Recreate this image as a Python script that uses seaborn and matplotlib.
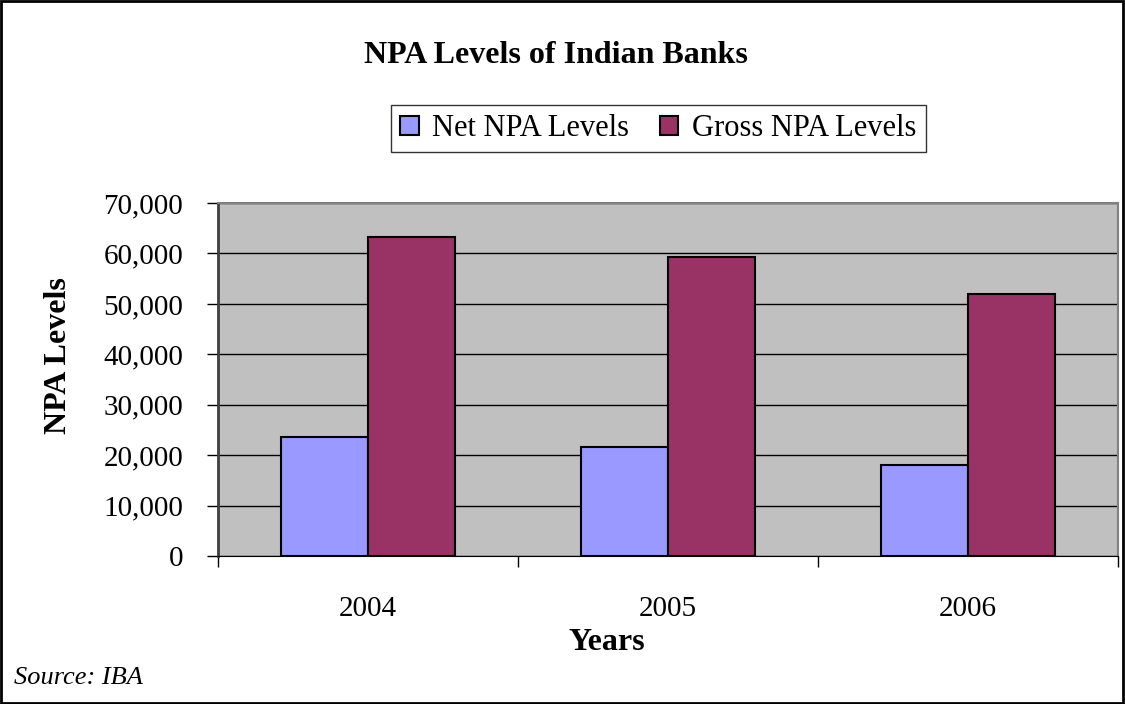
import pandas as pd
import seaborn as sns
import matplotlib.pyplot as plt
from matplotlib.ticker import FuncFormatter
from matplotlib.patches import Rectangle

years = ['2004', '2005', '2006']
net_npa = [23700, 21600, 18100]
gross_npa = [63300, 59300, 52000]
series = ['Net NPA Levels', 'Gross NPA Levels']
colors = ['#9999FF', '#993366']

df = pd.DataFrame({
    'Year': years * 2,
    'Level': net_npa + gross_npa,
    'Series': [series[0]] * 3 + [series[1]] * 3,
})

plt.rcParams['font.family'] = ['Liberation Serif', 'DejaVu Serif']

fig = plt.figure(figsize=(11.25, 7.04), dpi=100)
ax = fig.add_axes([0.1938, 0.2102, 0.8, 0.5014])
ax.set_facecolor('#C0C0C0')
ax.set_axisbelow(True)
ax.grid(axis='y', color='black', linewidth=1)

sns.barplot(data=df, x='Year', y='Level', hue='Series', hue_order=series,
            palette=colors, saturation=1, width=0.58, gap=0,
            edgecolor='black', linewidth=1.5, ax=ax)

ax.set_xlim(-0.5, 2.5)
ax.set_ylim(0, 70000)
ax.set_yticks(range(0, 70001, 10000))
ax.yaxis.set_major_formatter(FuncFormatter(lambda v, p: f'{int(v):,}'))
ax.tick_params(axis='y', labelsize=21, length=8, width=1, pad=17)
ax.tick_params(axis='x', which='major', labelsize=21, length=0, pad=29)
ax.set_xticks([-0.5, 0.5, 1.5, 2.5], minor=True)
ax.tick_params(axis='x', which='minor', length=8, width=1)

ax.set_xlabel('Years', fontsize=23, fontweight='bold', va='center')
ax.xaxis.set_label_coords(0.432, -0.245)
ax.set_ylabel('NPA Levels', fontsize=23, fontweight='bold', va='center')
ax.yaxis.set_label_coords(-0.177, 0.567)

for side in ['top', 'right']:
    ax.spines[side].set_color('#808080')
    ax.spines[side].set_linewidth(1.5)
ax.spines['left'].set_color('#404040')
ax.spines['left'].set_linewidth(2)
ax.spines['bottom'].set_color('black')

handles, labels = ax.get_legend_handles_labels()
ax.get_legend().remove()
leg = fig.legend(handles, labels, loc='center', bbox_to_anchor=(0.5853, 0.817),
                 ncol=2, fontsize=22, frameon=True, fancybox=False,
                 edgecolor='black', handlelength=0.6, handleheight=0.6,
                 handletextpad=0.45, columnspacing=1.0, borderpad=0.3,
                 borderaxespad=0)
leg.get_frame().set_linewidth(1)

fig.text(0.494, 0.921, 'NPA Levels of Indian Banks', ha='center', va='center',
         fontsize=23, fontweight='bold')
fig.text(0.012, 0.037, 'Source: IBA', ha='left', va='center',
         fontsize=19, style='italic')

fig.patches.append(Rectangle((0.001, 0.001), 0.997, 0.997, transform=fig.transFigure,
                             fill=False, edgecolor='black', linewidth=2))

fig.savefig('out.png', dpi=100)
